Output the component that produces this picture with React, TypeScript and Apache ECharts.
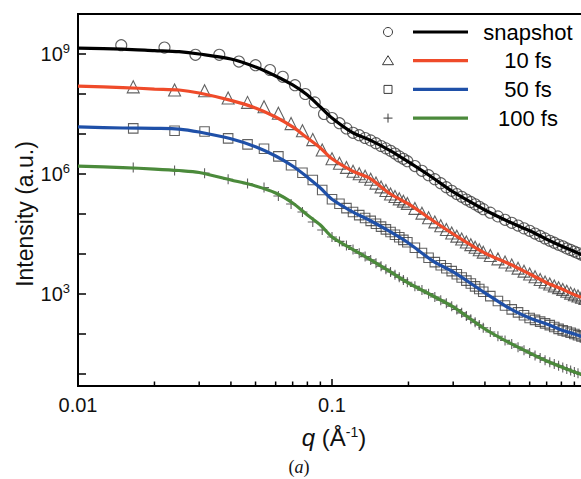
import React, { useEffect, useRef } from 'react';
import * as echarts from 'echarts';

const seriesNames = ['snapshot', '10 fs', '50 fs', '100 fs'];
const lineColors = ['#000000', '#ef4b2a', '#1f50a8', '#4b8a3b'];

// fitted curves
const fitQ = [0.01, 0.015, 0.02, 0.025, 0.03, 0.04, 0.05, 0.06, 0.07, 0.08, 0.09, 0.1, 0.12, 0.14, 0.17, 0.2, 0.25, 0.3, 0.4, 0.5, 0.6, 0.7, 0.8, 0.9, 1.0];
const snapshotFit = [1.41e9, 1.33e9, 1.22e9, 1.14e9, 1.0e9, 7.5e8, 4.73e8, 2.82e8, 1.68e8, 9.44e7, 4.73e7, 2.51e7, 1.1e7, 7.24e6, 3.8e6, 2.0e6, 7.94e5, 3.55e5, 1.26e5, 6.31e4, 3.8e4, 2.34e4, 1.58e4, 1.15e4, 8.51e3];
const fs10Fit = [1.58e8, 1.45e8, 1.33e8, 1.26e8, 1.06e8, 6.92e7, 4.47e7, 2.66e7, 1.5e7, 7.94e6, 4.47e6, 2.4e6, 1.2e6, 7.94e5, 3.16e5, 1.78e5, 6.76e4, 3.16e4, 1.05e4, 5.62e3, 3.16e3, 1.91e3, 1.35e3, 955, 759];
const fs50Fit = [1.5e7, 1.41e7, 1.38e7, 1.33e7, 1.12e7, 7.59e6, 4.79e6, 2.82e6, 1.58e6, 8.32e5, 4.47e5, 2.34e5, 1.15e5, 7.08e4, 3.55e4, 1.88e4, 6.61e3, 3.55e3, 1.07e3, 437, 251, 178, 126, 100, 79.4];
const fs100Fit = [1.58e6, 1.45e6, 1.33e6, 1.22e6, 1.09e6, 7.08e5, 5.01e5, 3.35e5, 1.88e5, 9.44e4, 5.31e4, 2.66e4, 1.33e4, 7.5e3, 3.55e3, 1.88e3, 891, 473, 133, 59.6, 33.5, 21.1, 15.0, 11.2, 8.91];

// measured points
const snapQ = [0.0148, 0.0219, 0.029, 0.036, 0.043, 0.05, 0.057, 0.064, 0.0715, 0.0785, 0.0855, 0.093,
  0.1, 0.107, 0.114, 0.121, 0.128, 0.135, 0.142, 0.149, 0.156, 0.163, 0.17, 0.177, 0.184, 0.191, 0.198,
  0.212, 0.226, 0.24, 0.254, 0.268, 0.282, 0.296, 0.31, 0.324, 0.338, 0.352, 0.366, 0.38, 0.394,
  0.42, 0.45, 0.48, 0.51, 0.54, 0.57, 0.6, 0.63, 0.66, 0.69, 0.72, 0.75, 0.78, 0.81, 0.84, 0.87, 0.9, 0.93, 0.96, 0.99];
const simQ = [0.0165, 0.024, 0.0315, 0.039, 0.0465, 0.054, 0.0615, 0.069, 0.0765, 0.084, 0.0915,
  0.1, 0.107, 0.114, 0.121, 0.128, 0.135, 0.142, 0.149, 0.156, 0.163, 0.17, 0.177, 0.184, 0.191, 0.198,
  0.212, 0.226, 0.24, 0.254, 0.268, 0.282, 0.296, 0.31, 0.324, 0.338, 0.352, 0.366, 0.38, 0.394,
  0.42, 0.45, 0.48, 0.51, 0.54, 0.57, 0.6, 0.63, 0.66, 0.69, 0.72, 0.75, 0.78, 0.81, 0.84, 0.87, 0.9, 0.93, 0.96, 0.99];

const snapshotData = [1.66e9, 1.45e9, 9.55e8, 9.55e8, 6.46e8, 5.25e8, 3.98e8, 2.69e8, 1.66e8, 1.0e8, 6.17e7, 3.16e7,
  2.51e7, 1.86e7, 1.38e7, 1.07e7, 9.33e6, 7.94e6, 6.92e6, 5.89e6, 5.01e6, 4.37e6, 3.8e6, 3.24e6, 2.75e6, 2.4e6, 2.09e6,
  1.58e6, 1.2e6, 9.33e5, 7.41e5, 5.89e5, 4.68e5, 3.8e5, 3.16e5, 2.69e5, 2.29e5, 2.0e5, 1.74e5, 1.51e5, 1.32e5,
  1.08e5, 8.71e4, 7.16e4, 6.03e4, 5.13e4, 4.37e4, 3.8e4, 3.24e4, 2.82e4, 2.45e4, 2.14e4, 1.91e4, 1.7e4, 1.55e4, 1.38e4, 1.26e4, 1.15e4, 1.05e4, 9.55e3, 8.71e3];
const fs10Data = [1.51e8, 1.26e8, 1.2e8, 7.94e7, 6.17e7, 4.79e7, 3.31e7, 1.82e7, 1.2e7, 7.24e6, 3.98e6,
  2.4e6, 1.86e6, 1.46e6, 1.17e6, 1.01e6, 8.75e5, 7.41e5, 5.92e5, 4.75e5, 3.86e5, 3.16e5, 2.74e5, 2.39e5, 2.09e5, 1.84e5,
  1.38e5, 1.05e5, 8.07e4, 6.34e4, 5.06e4, 4.09e4, 3.34e4, 2.79e4, 2.36e4, 2.0e4, 1.71e4, 1.47e4, 1.27e4, 1.11e4,
  9.14e3, 7.55e3, 6.31e3, 5.28e3, 4.42e3, 3.72e3, 3.16e3, 2.7e3, 2.31e3, 2.0e3, 1.77e3, 1.59e3, 1.44e3, 1.3e3, 1.17e3, 1.05e3, 955, 889, 830, 776];
const fs50Data = [1.38e7, 1.2e7, 1.15e7, 7.76e6, 5.5e6, 4.27e6, 2.75e6, 1.66e6, 1.07e6, 7.08e5, 3.98e5,
  2.34e5, 1.8e5, 1.4e5, 1.12e5, 9.38e4, 7.94e4, 6.73e4, 5.68e4, 4.82e4, 4.12e4, 3.55e4, 3.03e4, 2.61e4, 2.25e4, 1.96e4,
  1.43e4, 1.06e4, 8.02e3, 6.27e3, 5.21e3, 4.39e3, 3.72e3, 3.1e3, 2.58e3, 2.16e3, 1.82e3, 1.55e3, 1.33e3, 1.14e3,
  881, 667, 515, 411, 346, 294, 251, 225, 203, 184, 166, 149, 134, 123, 115, 107, 100, 93.1, 86.9, 81.3];
const fs100Data = [1.45e6, 1.23e6, 1.05e6, 7.41e5, 5.75e5, 4.57e5, 2.82e5, 1.78e5, 1.12e5, 6.31e4, 3.98e4,
  2.66e4, 2.06e4, 1.62e4, 1.29e4, 1.05e4, 8.59e3, 7.1e3, 5.9e3, 4.94e3, 4.17e3, 3.55e3, 3.03e3, 2.61e3, 2.25e3, 1.96e3,
  1.55e3, 1.25e3, 1.02e3, 843, 700, 586, 495, 409, 337, 280, 234, 197, 167, 143,
  112, 87.3, 69.0, 56.0, 46.8, 39.4, 33.5, 29.0, 25.2, 22.1, 19.7, 17.7, 16.0, 14.5, 13.3, 12.2, 11.2, 10.4, 9.75, 9.12];

const xMinorTicks = [0.02, 0.03, 0.04, 0.05, 0.06, 0.07, 0.08, 0.09, 0.2, 0.3, 0.4, 0.5, 0.6, 0.7, 0.8, 0.9];
const xTickLabels = ['0.01', '0.1'];
const yLabelExponents = [3, 6, 9];

const X_MIN = 0.01;
const X_MAX = 1;
const Y_MIN = 5;
const Y_MAX = 1e10;

const FONT = 'Liberation Sans, Arial, sans-serif';
const MARK = '#3a3a3a';
const PLUS = 'path://M0,5L10,5M5,0L5,10';

export default function App() {
  const ref = useRef<HTMLDivElement>(null);
  useEffect(() => {
    if (!ref.current) return;
    const chart = echarts.init(ref.current, null, { renderer: 'svg' });
    const fits = [snapshotFit, fs10Fit, fs50Fit, fs100Fit];
    const pts = [snapshotData, fs10Data, fs50Data, fs100Data];
    const qs = [snapQ, simQ, simQ, simQ];
    const symbols = ['circle', 'triangle', 'rect', PLUS];
    const sizes = [11, 12, 9.5, 10];

    const series: any[] = [];
    pts.forEach((arr, i) => {
      series.push({
        type: 'scatter',
        name: seriesNames[i] + ' data',
        data: arr.map((v, k) => [qs[i][k], v]),
        symbol: symbols[i],
        symbolSize: sizes[i],
        itemStyle: { color: 'none', borderColor: MARK, borderWidth: 1.1 },
        z: 2,
        silent: true,
      });
    });
    fits.forEach((arr, i) => {
      series.push({
        type: 'line',
        name: seriesNames[i],
        data: arr.map((v, k) => [fitQ[k], v]),
        showSymbol: false,
        smooth: 0.3,
        lineStyle: { color: lineColors[i], width: 3.2 },
        z: 3,
        silent: true,
      });
    });
    series.push({
      type: 'custom',
      data: xMinorTicks.map((q) => [q, Y_MIN]),
      renderItem: (_p: any, api: any) => {
        const c = api.coord([api.value(0), api.value(1)]);
        return {
          type: 'line',
          shape: { x1: c[0], y1: c[1], x2: c[0], y2: c[1] - 4.5 },
          style: { stroke: '#000', lineWidth: 1.5 },
        };
      },
      clip: false,
      silent: true,
      z: 6,
    });

    const rowY = (i: number) => 32 + i * 28.7;
    const legendEls: any[] = [];
    seriesNames.forEach((name, i) => {
      const cy = rowY(i);
      const st = { fill: 'none', stroke: MARK, lineWidth: 1 };
      if (i === 0) legendEls.push({ type: 'circle', shape: { cx: 388, cy, r: 4.5 }, style: st });
      if (i === 1) legendEls.push({ type: 'polygon', shape: { points: [[388, cy - 5], [393.5, cy + 4], [382.5, cy + 4]] }, style: st });
      if (i === 2) legendEls.push({ type: 'rect', shape: { x: 384, y: cy - 4, width: 8, height: 8 }, style: st });
      if (i === 3) {
        legendEls.push({ type: 'line', shape: { x1: 383.5, y1: cy, x2: 392.5, y2: cy }, style: st });
        legendEls.push({ type: 'line', shape: { x1: 388, y1: cy - 4.5, x2: 388, y2: cy + 4.5 }, style: st });
      }
      legendEls.push({ type: 'line', shape: { x1: 413, y1: cy, x2: 468, y2: cy }, style: { stroke: lineColors[i], lineWidth: 3.2 } });
      legendEls.push({
        type: 'text', x: 528, y: cy,
        style: { text: name, font: `22px ${FONT}`, fill: '#000', textAlign: 'center', align: 'center', textVerticalAlign: 'middle', verticalAlign: 'middle' },
      });
    });

    const option: any = {
      animation: false,
      backgroundColor: '#ffffff',
      grid: { left: 78, top: 14, right: 14, bottom: 93, show: true, borderColor: '#000', borderWidth: 2, backgroundColor: 'transparent' },
      xAxis: {
        type: 'log', logBase: 10, min: X_MIN, max: X_MAX,
        axisLine: { lineStyle: { color: '#000', width: 2 } },
        axisTick: { inside: true, length: 7, lineStyle: { color: '#000', width: 1.5 } },
        splitLine: { show: false },
        axisLabel: {
          color: '#111', fontSize: 20, fontFamily: FONT, margin: 9,
          formatter: (v: number) => {
            const e = Math.round(Math.log10(v));
            return xTickLabels[e + 2] || '';
          },
        },
      },
      yAxis: {
        type: 'log', logBase: 10, min: Y_MIN, max: Y_MAX, splitNumber: 10,
        axisLine: { lineStyle: { color: '#000', width: 2 } },
        axisTick: { inside: true, length: 8, lineStyle: { color: '#000', width: 1.5 } },
        splitLine: { show: false },
        axisLabel: {
          color: '#111', fontFamily: FONT, margin: 8,
          formatter: (v: number) => {
            const e = Math.log10(v);
            const r = Math.round(e);
            if (Math.abs(e - r) > 1e-6 || yLabelExponents.indexOf(r) < 0) return '';
            return `{b|10}{s|${r}}`;
          },
          rich: {
            b: { fontSize: 20, fontFamily: FONT, color: '#111' },
            s: { fontSize: 13, fontFamily: FONT, color: '#111', padding: [0, 0, 10, 0] },
          },
        },
      },
      graphic: [
        {
          type: 'text', x: 25, y: 214, rotation: Math.PI / 2,
          style: { text: 'Intensity (a.u.)', font: `23px ${FONT}`, fill: '#111', textAlign: 'center', align: 'center', textVerticalAlign: 'middle', verticalAlign: 'middle' },
        },
        {
          type: 'text', x: 334, y: 437,
          style: {
            text: '{i|q} (Å{s|-1})', fill: '#111', textAlign: 'center', align: 'center', textVerticalAlign: 'middle', verticalAlign: 'middle',
            rich: {
              i: { fontSize: 24, fontFamily: FONT, fontStyle: 'italic', fill: '#111' },
              s: { fontSize: 14, fontFamily: FONT, fill: '#111', padding: [0, 0, 11, 0] },
            },
            font: `24px ${FONT}`,
          },
        },
        {
          type: 'text', x: 299, y: 467,
          style: {
            text: '({i|a})', font: `18px Liberation Serif, Times New Roman, serif`, fill: '#111', textAlign: 'center', align: 'center', textVerticalAlign: 'middle', verticalAlign: 'middle',
            rich: { i: { fontSize: 18, fontFamily: 'Liberation Serif, Times New Roman, serif', fontStyle: 'italic', fill: '#111' } },
          },
        },
        ...legendEls,
      ],
      series,
    };
    chart.setOption(option);
    return () => chart.dispose();
  }, []);
  return (
    <div style={{ position: 'fixed', left: 0, top: 0, width: 581, height: 479, overflow: 'hidden', background: '#fff' }}>
      <div ref={ref} style={{ width: 600, height: 479 }} />
    </div>
  );
}
